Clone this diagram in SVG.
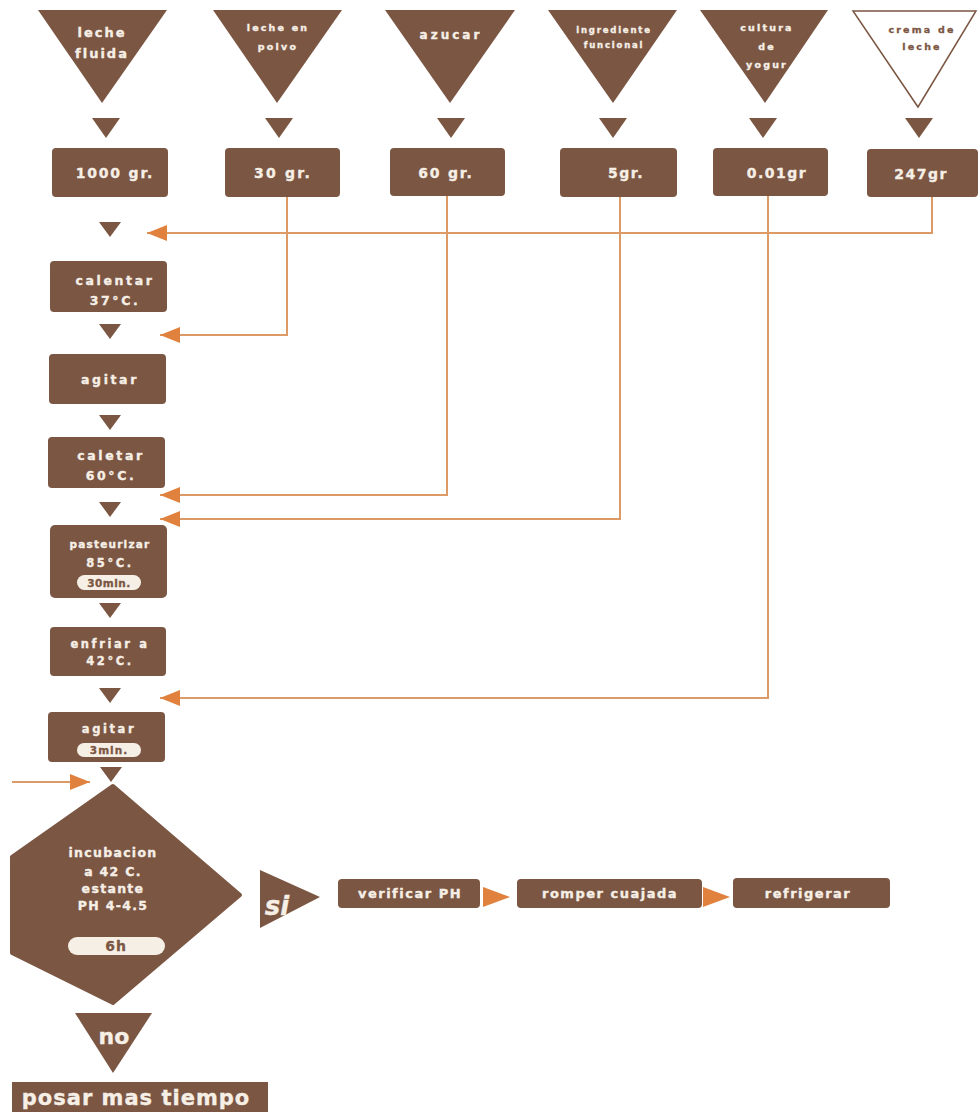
<svg xmlns="http://www.w3.org/2000/svg" width="980" height="1112" viewBox="0 0 980 1112">
<style>
.b{fill:#7b5643}
.t{fill:#f6efe6;stroke:#f6efe6;stroke-width:0.35;font-family:"DejaVu Sans","Liberation Sans",sans-serif;font-weight:bold;text-anchor:middle}
.tb{fill:#7b5643;stroke:#7b5643;stroke-width:0.3;font-family:"DejaVu Sans","Liberation Sans",sans-serif;font-weight:bold;text-anchor:middle}
.pill{fill:#f6efe6}
.ln{fill:none;stroke:#dc9a66;stroke-width:2}
.ah{fill:#e0823e}
</style>
<defs>
<marker id="arr" markerUnits="userSpaceOnUse" markerWidth="20" markerHeight="16" refX="20" refY="8" orient="auto">
<path d="M0,0 L20,8 L0,16 z" fill="#e0823e"/>
</marker>
</defs>
<rect width="980" height="1112" fill="#ffffff"/>

<g id="connectors">
<path class="ln" d="M932,197 V233 H147" marker-end="url(#arr)"/>
<path class="ln" d="M287,197 V335 H160" marker-end="url(#arr)"/>
<path class="ln" d="M447,196 V495 H160" marker-end="url(#arr)"/>
<path class="ln" d="M620,197 V519 H160" marker-end="url(#arr)"/>
<path class="ln" d="M768,196 V698 H160" marker-end="url(#arr)"/>
<path class="ln" d="M12,782 H90" marker-end="url(#arr)"/>
<polygon class="ah" points="483,887 510,897 483,907"/>
<polygon class="ah" points="703,887 730,897 703,907"/>
<g class="b">
<polygon points="92,118 120,118 106,138"/>
<polygon points="265,118 293,118 279,138"/>
<polygon points="437,118 465,118 451,138"/>
<polygon points="599,118 627,118 613,138"/>
<polygon points="749,118 777,118 763,138"/>
<polygon points="905,118 933,118 919,138"/>
<polygon points="99,222 121,222 110,237"/>
<polygon points="99,324 121,324 110,339"/>
<polygon points="99,415 121,415 110,430"/>
<polygon points="99,502 121,502 110,517"/>
<polygon points="99,603 121,603 110,618"/>
<polygon points="99,688 121,688 110,703"/>
<polygon points="100,767 122,767 111,782"/>
</g>
</g>

<g id="in-leche-fluida">
<polygon class="b" points="38,10 167,10 102,103"/>
<text class="t" x="102" y="37" font-size="13" letter-spacing="2">leche</text>
<text class="t" x="102" y="58" font-size="13" letter-spacing="2">fluida</text>
</g>
<g id="in-leche-polvo">
<polygon class="b" points="213,10 342,10 277,103"/>
<text class="t" x="278" y="31" font-size="9.5" letter-spacing="2.2">leche en</text>
<text class="t" x="278" y="50" font-size="9.5" letter-spacing="2.2">polvo</text>
</g>
<g id="in-azucar">
<polygon class="b" points="385,10 515,10 450,103"/>
<text class="t" x="451" y="39" font-size="12" letter-spacing="3">azucar</text>
</g>
<g id="in-ingrediente">
<polygon class="b" points="548,10 677,10 613,103"/>
<text class="t" x="614" y="33" font-size="8.5" letter-spacing="1.8">ingrediente</text>
<text class="t" x="614" y="48" font-size="8.5" letter-spacing="1.8">funcional</text>
</g>
<g id="in-cultura">
<polygon class="b" points="700,10 828,10 765,103"/>
<text class="t" x="767" y="31" font-size="9.5" letter-spacing="2.2">cultura</text>
<text class="t" x="767" y="50" font-size="9.5" letter-spacing="2.2">de</text>
<text class="t" x="767" y="68" font-size="9.5" letter-spacing="2.2">yogur</text>
</g>
<g id="in-crema">
<polygon points="853,11 976,11 918,107" fill="#ffffff" stroke="#7b5643" stroke-width="1.5"/>
<text class="tb" x="922" y="33" font-size="9.5" letter-spacing="2.2">crema de</text>
<text class="tb" x="922" y="50" font-size="9.5" letter-spacing="2.2">leche</text>
</g>

<g id="q-1000">
<rect class="b" x="52" y="148" width="116" height="49" rx="4"/>
<text class="t" x="115" y="178" font-size="14" letter-spacing="1.8">1000 gr.</text>
</g>
<g id="q-30">
<rect class="b" x="225" y="148" width="115" height="49" rx="4"/>
<text class="t" x="283" y="178" font-size="14" letter-spacing="2.2">30 gr.</text>
</g>
<g id="q-60">
<rect class="b" x="390" y="148" width="115" height="48" rx="4"/>
<text class="t" x="446" y="178" font-size="14" letter-spacing="1.8">60 gr.</text>
</g>
<g id="q-5">
<rect class="b" x="560" y="148" width="117" height="49" rx="4"/>
<text class="t" x="626" y="178" font-size="14" letter-spacing="1.5">5gr.</text>
</g>
<g id="q-001">
<rect class="b" x="713" y="148" width="115" height="48" rx="4"/>
<text class="t" x="777" y="178" font-size="14" letter-spacing="1.5">0.01gr</text>
</g>
<g id="q-247">
<rect class="b" x="867" y="149" width="111" height="48" rx="4"/>
<text class="t" x="921" y="179" font-size="14" letter-spacing="1.5">247gr</text>
</g>

<g id="s-calentar">
<rect class="b" x="50" y="261" width="117" height="51" rx="4"/>
<text class="t" x="115" y="285" font-size="12.5" letter-spacing="2.6">calentar</text>
<text class="t" x="115" y="305" font-size="12.5" letter-spacing="2.6">37°C.</text>
</g>
<g id="s-agitar1">
<rect class="b" x="49" y="354" width="117" height="50" rx="4"/>
<text class="t" x="110" y="384" font-size="12.5" letter-spacing="2.6">agitar</text>
</g>
<g id="s-caletar">
<rect class="b" x="48" y="437" width="117" height="51" rx="4"/>
<text class="t" x="111" y="460" font-size="12.5" letter-spacing="2.6">caletar</text>
<text class="t" x="111" y="480" font-size="12.5" letter-spacing="2.6">60°C.</text>
</g>
<g id="s-pasteurizar">
<rect class="b" x="50" y="525" width="117" height="73" rx="5"/>
<text class="t" x="110" y="548" font-size="10.5" letter-spacing="1.2">pasteurizar</text>
<text class="t" x="110" y="567" font-size="11.5" letter-spacing="2.6">85°C.</text>
<rect class="pill" x="77" y="575" width="64" height="15" rx="7.5"/>
<text class="tb" x="109" y="587" font-size="10.5" letter-spacing="0.5">30min.</text>
</g>
<g id="s-enfriar">
<rect class="b" x="50" y="627" width="116" height="49" rx="4"/>
<text class="t" x="110" y="648" font-size="11.5" letter-spacing="2.6">enfriar a</text>
<text class="t" x="110" y="665" font-size="11.5" letter-spacing="2.6">42°C.</text>
</g>
<g id="s-agitar2">
<rect class="b" x="48" y="712" width="117" height="50" rx="4"/>
<text class="t" x="109" y="733" font-size="11.5" letter-spacing="2.6">agitar</text>
<rect class="pill" x="77" y="743" width="64" height="14" rx="7"/>
<text class="tb" x="109" y="754" font-size="10.5" letter-spacing="1">3min.</text>
</g>

<g id="d-incubacion">
<polygon class="b" points="113,786 240,895 113,1003 12,953 12,857" stroke="#7b5643" stroke-width="4" stroke-linejoin="round"/>
<text class="t" x="113" y="857" font-size="12.5" letter-spacing="1.3">incubacion</text>
<text class="t" x="113" y="876" font-size="12.5" letter-spacing="1.3">a 42 C.</text>
<text class="t" x="113" y="893" font-size="12.5" letter-spacing="1.3">estante</text>
<text class="t" x="113" y="910" font-size="12.5" letter-spacing="1.3">PH 4-4.5</text>
<rect class="pill" x="68" y="937" width="97" height="18" rx="9"/>
<text class="tb" x="116" y="951" font-size="14" letter-spacing="1">6h</text>
</g>

<g id="si">
<polygon class="b" points="260,870 320,897 260,928"/>
<text class="t" x="277" y="915" font-size="26" font-style="italic">si</text>
</g>
<g id="p-verificar">
<rect class="b" x="338" y="879" width="142" height="29" rx="4"/>
<text class="t" x="410" y="898" font-size="13" letter-spacing="1.5">verificar PH</text>
</g>
<g id="p-romper">
<rect class="b" x="517" y="879" width="185" height="29" rx="4"/>
<text class="t" x="610" y="898" font-size="13" letter-spacing="1.5">romper cuajada</text>
</g>
<g id="p-refrigerar">
<rect class="b" x="733" y="878" width="157" height="30" rx="4"/>
<text class="t" x="808" y="898" font-size="13" letter-spacing="1.5">refrigerar</text>
</g>

<g id="no">
<polygon class="b" points="75,1013 152,1013 113,1073"/>
<text class="t" x="114" y="1044" font-size="22">no</text>
</g>
<g id="p-reposar">
<rect class="b" x="12" y="1082" width="256" height="30"/>
<text class="t" x="136" y="1105" font-size="21" letter-spacing="1">posar mas tiempo</text>
</g>
</svg>
